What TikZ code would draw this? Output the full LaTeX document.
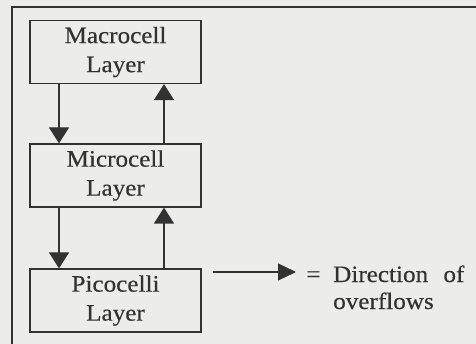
\documentclass[tikz,border=0pt]{standalone}
\usepackage{fontspec}
\setmainfont{Liberation Serif}[FakeStretch=1.07,FakeBold=0.4]
\usetikzlibrary{arrows.meta}
\definecolor{bg}{RGB}{236,236,234}
\definecolor{ink}{RGB}{50,50,50}
\tikzset{
  layerbox/.style={draw=ink, line width=1.2pt, fill=bg, minimum width=171pt, minimum height=63pt,
    align=center, inner sep=0pt, text=ink, font=\fontsize{23.5}{29}\selectfont},
  flow/.style={draw=ink, line width=1.2pt, -{Triangle[width=20pt,length=16pt]}},
  legtext/.style={text=ink, inner sep=0pt, align=left, font=\fontsize{23.5}{27}\selectfont},
  frame/.style={draw=ink, line width=1.8pt}
}
\begin{document}
\begin{tikzpicture}[x=1pt,y=-1pt]
\fill[bg] (0,0) rectangle (476,344);
\useasboundingbox (0,0) rectangle (476,344);
% frame (only top and left edges visible)
\draw[frame] (476,7) -- (12,7) -- (12,344);
% layers
\node[layerbox] (macro) at (115.5,52) {Macrocell\\Layer};
\node[layerbox] (micro) at (115.5,175.5) {Microcell\\Layer};
\node[layerbox] (pico) at (115.5,300.5) {Picocelli\\Layer};
% arrow columns
\coordinate (dn) at (59,0);
\coordinate (up) at (164,0);
\draw[flow] (macro.south -| dn) -- (micro.north -| dn);
\draw[flow] (micro.north -| up) -- (macro.south -| up);
\draw[flow] (micro.south -| dn) -- (pico.north -| dn);
\draw[flow] (pico.north -| up) -- (micro.south -| up);
% legend
\coordinate (ls) at (213,272);
\coordinate (le) at (296,272);
\draw[flow, -{Triangle[width=17pt,length=18pt]}] (ls) -- (le);
\node[legtext, anchor=base] (eq) at (313.5,282) {=};
\node[legtext, anchor=base west] (leg) at (333,309) {Direction\hspace{9pt} of\\overflows};
\end{tikzpicture}
\end{document}
